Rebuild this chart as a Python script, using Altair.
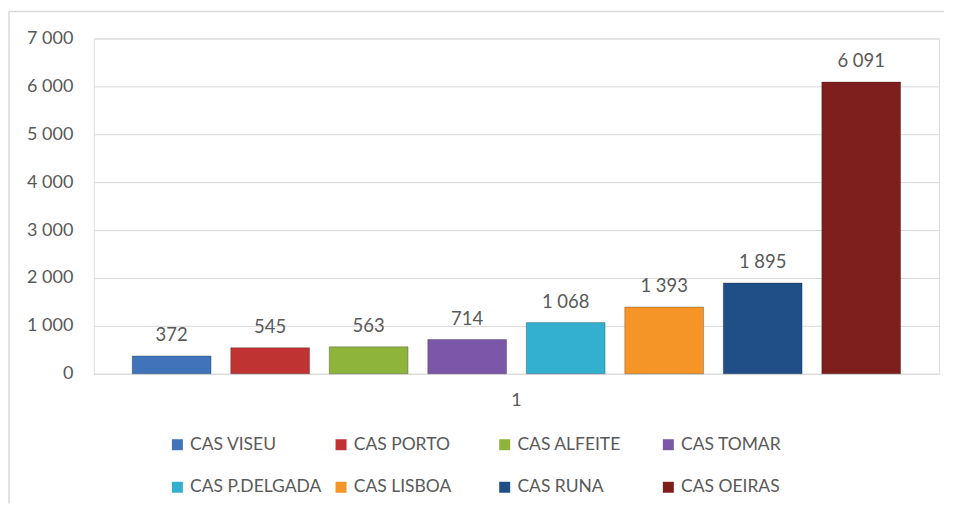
import altair as alt
import pandas as pd

names = ["CAS VISEU", "CAS PORTO", "CAS ALFEITE", "CAS TOMAR",
         "CAS P.DELGADA", "CAS LISBOA", "CAS RUNA", "CAS OEIRAS"]
values = [372, 545, 563, 714, 1068, 1393, 1895, 6091]
colors = ["#3f74ba", "#bf3333", "#8fb43c", "#7c56a8",
          "#33b0cf", "#f59427", "#1f4f86", "#7e1f1d"]
category = "1"
y_ticks = [0, 1000, 2000, 3000, 4000, 5000, 6000, 7000]

df = pd.DataFrame({"cat": [category] * len(names), "name": names, "value": values})

FONT = "Lato"
GRAY = "#595959"

base = alt.Chart(df).encode(
    x=alt.X("cat:N", title=None,
            scale=alt.Scale(paddingInner=0, paddingOuter=0.05),
            axis=alt.Axis(labelAngle=0, domain=False, ticks=False, labelPadding=18,
                          labelFontSize=18, labelColor=GRAY, labelFont=FONT, grid=False)),
    xOffset=alt.XOffset("name:N", sort=names,
                        scale=alt.Scale(paddingInner=0.2, paddingOuter=0)),
)

bars = base.mark_bar(strokeWidth=1, stroke="#00000040").encode(
    y=alt.Y("value:Q", title=None,
            scale=alt.Scale(domain=[0, 7000], nice=False),
            axis=alt.Axis(values=y_ticks, domain=False, ticks=False, labelPadding=21,
                          labelFontSize=18, labelColor=GRAY, labelFont=FONT,
                          gridColor="#d9d9d9", gridWidth=1,
                          labelExpr="replace(format(datum.value, ','), ',', ' ')")),
    color=alt.Color("name:N", sort=names,
                    scale=alt.Scale(domain=names, range=colors),
                    legend=alt.Legend(title=None, orient="none", legendX=75, legendY=398,
                                      direction="horizontal", columns=4, gridAlign="all",
                                      symbolType="square", symbolSize=121,
                                      symbolStrokeWidth=0,
                                      labelFontSize=17.5, labelColor=GRAY, labelFont=FONT,
                                      columnPadding=10, rowPadding=24, labelOffset=4,
                                      labelLimit=300)),
)

labels = base.transform_calculate(
    label="replace(format(datum.value, ','), ',', ' ')"
).mark_text(baseline="alphabetic", dy=-15, fontSize=18.5, color=GRAY, font=FONT).encode(
    y=alt.Y("value:Q"),
    text="label:N",
)

top_line = alt.Chart(df).mark_rule(stroke="#d9d9d9", strokeWidth=1.5).encode(
    x=alt.value(-85), x2=alt.value(852), y=alt.value(-27)
).transform_filter("datum.name == 'CAS VISEU'")

left_line = alt.Chart(df).mark_rule(stroke="#d9d9d9", strokeWidth=1.5).encode(
    x=alt.value(-85), y=alt.value(-27), y2=alt.value(466)
).transform_filter("datum.name == 'CAS VISEU'")

chart = alt.layer(top_line, left_line, bars, labels).properties(
    width=847, height=336,
    padding={"left": 0, "top": 2, "right": 0, "bottom": 0},
    background="white",
).configure_view(stroke=None).configure(font=FONT)

chart.save("out.html", embed_options={"renderer": "svg", "actions": False})
